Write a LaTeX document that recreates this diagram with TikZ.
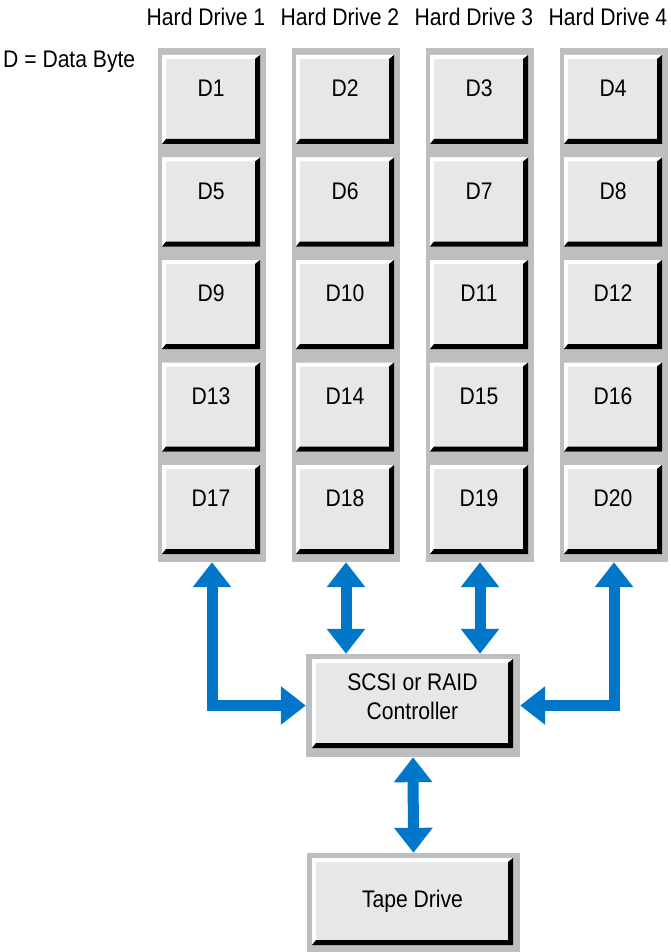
\documentclass[tikz,border=0pt]{standalone}
\usepackage{fontspec}
\setmainfont{Liberation Sans}[FakeStretch=0.88]
\usepackage{tikz}
\usetikzlibrary{arrows.meta, positioning}

\definecolor{framegray}{HTML}{BCBEC0}
\definecolor{facegray}{HTML}{E6E7E8}
\definecolor{linkblue}{HTML}{0077C8}
\def\ppb{path picture bounding box}

\begin{document}
\begin{tikzpicture}[x=1pt, y=-1pt,
    strip/.style={fill=framegray, draw=none, inner sep=0pt},
    unit/.style={fill=facegray, inner sep=0pt, align=center,
                 font=\fontsize{24}{29}\selectfont,
                 path picture={
                   \fill[white] (\ppb.south west) -- (\ppb.north west) -- (\ppb.north east)
                     -- ([shift={(-5pt,-4pt)}]\ppb.north east) -- ([shift={(4pt,-4pt)}]\ppb.north west)
                     -- ([shift={(4pt,5pt)}]\ppb.south west) -- cycle;
                   \fill[black] (\ppb.north east) -- (\ppb.south east) -- (\ppb.south west)
                     -- ([shift={(4pt,5pt)}]\ppb.south west) -- ([shift={(-5pt,5pt)}]\ppb.south east)
                     -- ([shift={(-5pt,-4pt)}]\ppb.north east) -- cycle;
                 }},
    drive/.style={unit, minimum width=98pt, minimum height=89pt,
                  text height=17pt, text depth=23pt},
    caption/.style={font=\fontsize{24}{29}\selectfont, inner sep=0pt},
    link/.style={linkblue, line width=11pt, line join=miter,
                 {Triangle[width=37pt,length=25pt]}-{Triangle[width=37pt,length=25pt]}}
]
\useasboundingbox (0,0) rectangle (670,952);

% ====================== HARD DRIVES ======================
\foreach \c in {1,...,4} {
  \node[strip, minimum width=108pt, minimum height=514pt] (hd\c) at ({212+134*(\c-1)},305) {};
  \node[caption] (hdr\c) at ({206+134*(\c-1)},17) {Hard Drive \c};
  \foreach \r in {0,...,4} {
    \pgfmathtruncatemacro{\dnum}{4*\r+\c}
    \node[drive] (d\dnum) at ({211+134*(\c-1)},{99.5+102.5*\r}) {D\dnum};
  }
}
\node[caption, anchor=west] (legend) at (3,62) {D = Data Byte};

% ====================== CONTROLLER & TAPE ======================
\node[strip, minimum width=214pt, minimum height=103pt] (ctrl) at (413,705.5) {};
\node[unit, minimum width=201pt, minimum height=89pt,
      label={[caption, align=center, yshift=7pt]center:{SCSI or RAID\\Controller}}] (ctrlface) at (412.5,703.5) {};

\node[strip, minimum width=213pt, minimum height=99pt] (tape) at (413.5,902.5) {};
\node[unit, minimum width=201pt, minimum height=87pt] (tapeface) at (412.5,901.5) {Tape Drive};

% ====================== ARROWS ======================
\draw[link] (hd1.south) |- (ctrl.west);
\draw[link] (hd2.south) -- (hd2.south |- ctrl.north);
\draw[link] (hd3.south) -- (hd3.south |- ctrl.north);
\draw[link] (hd4.south) |- (ctrl.east);
\draw[link] (ctrl.south) -- (tape.north);

\end{tikzpicture}
\end{document}
